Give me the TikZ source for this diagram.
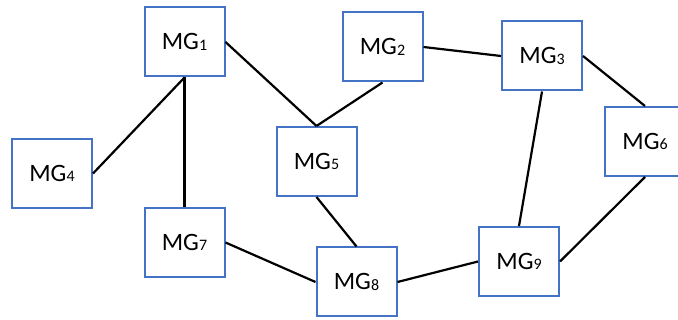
\documentclass[tikz,border=0pt]{standalone}
\usepackage{fontspec}
\setmainfont{Carlito}
\usepackage{tikz}

\definecolor{mgblue}{RGB}{68,114,196}
\newcommand{\mglabel}[1]{MG\raisebox{-0.5pt}{\fontsize{16}{16}\selectfont #1}}

\begin{document}
\begin{tikzpicture}[x=1pt,y=1pt,yscale=-1,xscale=1,
  mgbox/.style={draw=mgblue,line width=2pt,fill=white,minimum width=80pt,minimum height=69pt,inner sep=0pt,font=\fontsize{25}{30}\selectfont},
  link/.style={line width=2.2pt,black}]
\useasboundingbox (0,0) rectangle (678,320);
\clip (0,0) rectangle (678,320);

%Shape: Rectangle nodes
\node [mgbox] (mg1) at (184.5,42) {\mglabel{1}};
\node [mgbox] (mg2) at (382.5,47) {\mglabel{2}};
\node [mgbox] (mg3) at (542,56) {\mglabel{3}};
\node [mgbox] (mg4) at (52,173.5) {\mglabel{4}};
\node [mgbox] (mg5) at (316.5,161.5) {\mglabel{5}};
\node [mgbox] (mg6) at (645,141.5) {\mglabel{6}};
\node [mgbox] (mg7) at (184.5,242.5) {\mglabel{7}};
\node [mgbox] (mg8) at (356.5,282) {\mglabel{8}};
\node [mgbox] (mg9) at (519,261.5) {\mglabel{9}};

%Straight Lines
\draw [link] (mg1.south) -- (mg4.east);
\draw [link] (mg1.south) -- (mg7.north);
\draw [link] (mg1.east) -- (mg5.north);
\draw [link] (mg2.south) -- (mg5.north);
\draw [link] (mg2.east) -- (mg3.west);
\draw [link] (mg3.east) -- (mg6.north);
\draw [link] (mg3.south) -- (mg9.north);
\draw [link] (mg6.south) -- (mg9.east);
\draw [link] (mg5.south) -- (mg8.north);
\draw [link] (mg7.east) -- (mg8.west);
\draw [link] (mg8.east) -- (mg9.west);

\end{tikzpicture}
\end{document}
